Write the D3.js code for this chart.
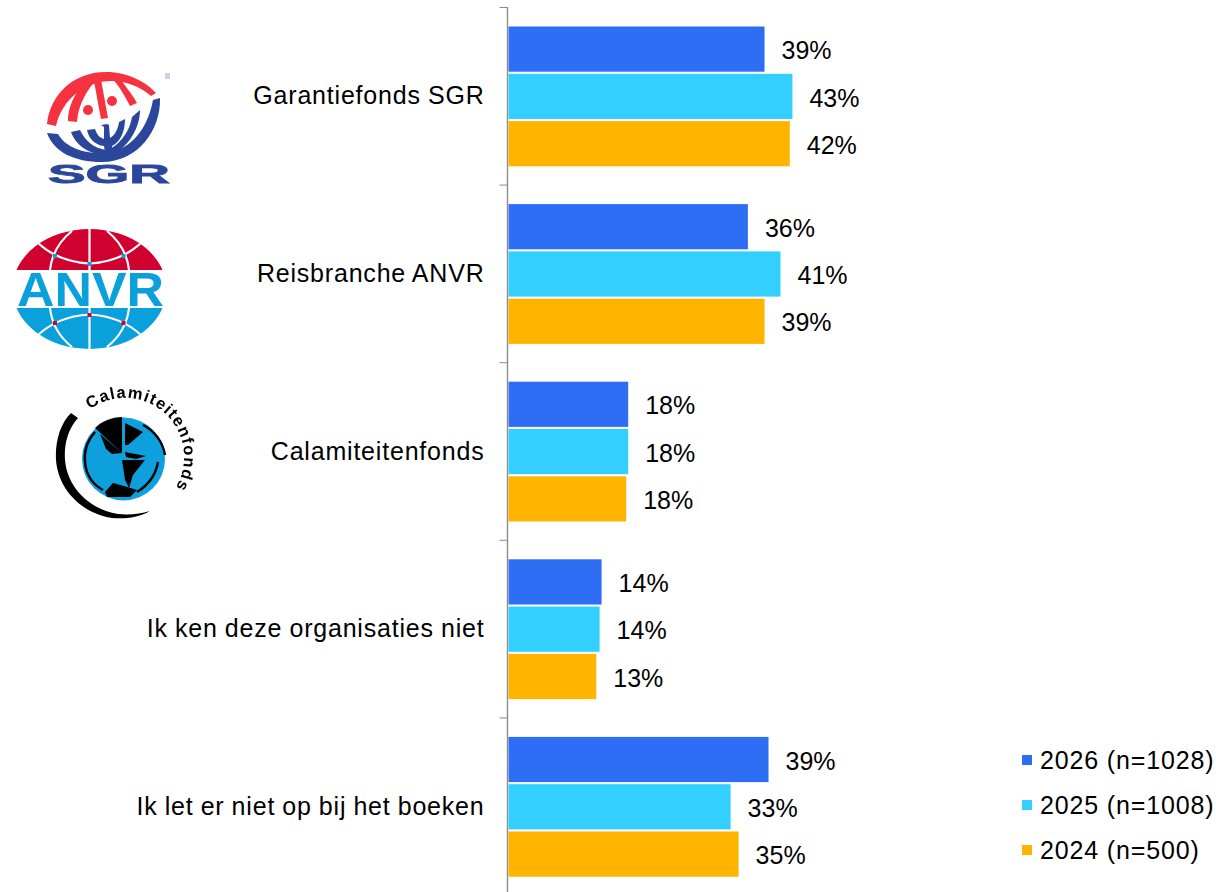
<!DOCTYPE html>
<html><head><meta charset="utf-8">
<script src="https://cdn.jsdelivr.net/npm/d3@7"></script>
<style>html,body{margin:0;padding:0;background:#fff;overflow:hidden}svg{display:block}text{font-family:"Liberation Sans",Arial,sans-serif}</style>
</head><body><svg id="c" width="1216" height="892"></svg>
<script>
const categories = ["Garantiefonds SGR","Reisbranche ANVR","Calamiteitenfonds","Ik ken deze organisaties niet","Ik let er niet op bij het boeken"];
const years = ["2026 (n=1028)","2025 (n=1008)","2024 (n=500)"];
const colors = ["#2e6ef5","#33cfff","#ffb400"];
const values2026 = [38.5,36.0,18.0,14.0,39.1];
const values2025 = [42.7,40.9,18.0,13.7,33.4];
const values2024 = [42.3,38.5,17.7,13.2,34.6];
const labels2026 = ["39%","36%","18%","14%","39%"];
const labels2025 = ["43%","41%","18%","14%","33%"];
const labels2024 = ["42%","39%","18%","13%","35%"];
const seriesValues = [values2026,values2025,values2024];
const seriesLabels = [labels2026,labels2025,labels2024];

const svg = d3.select("#c");
const x = d3.scaleLinear().domain([0,100]).range([508.5,1173.5]);
const y = d3.scaleBand().domain(categories).range([7,895]);
const inner = d3.scaleBand().domain(d3.range(3)).range([18.6,160.5]);
const FS = 25;

// axis
svg.append("line").attr("x1",507.5).attr("x2",507.5).attr("y1",7).attr("y2",892).attr("stroke","#8c8c8c").attr("stroke-width",1.4);
const ticks = categories.map(c=>y(c));
svg.selectAll(".tk").data(ticks).join("line").attr("class","tk")
  .attr("x1",499.5).attr("x2",507.5).attr("y1",d=>d+.5).attr("y2",d=>d+.5).attr("stroke","#8c8c8c").attr("stroke-width",1);

// bars
seriesValues.forEach((vals,s)=>{
  svg.append("g").selectAll("rect").data(vals).join("rect")
    .attr("x",x(0)).attr("y",(d,i)=>y(categories[i])+inner(s)+.9)
    .attr("width",d=>x(d)-x(0)).attr("height",inner.bandwidth()-2.1)
    .attr("fill",colors[s]);
  svg.append("g").selectAll("text").data(vals).join("text")
    .attr("x",d=>x(d)+17).attr("y",(d,i)=>y(categories[i])+inner(s)+inner.bandwidth()/2+1)
    .attr("dominant-baseline","central").attr("font-size",FS).attr("fill","#000")
    .text((d,i)=>seriesLabels[s][i]);
});

// category labels
svg.append("g").selectAll("text").data(categories).join("text")
  .attr("x",484.5).attr("y",d=>y(d)+y.bandwidth()/2-.5).attr("text-anchor","end")
  .attr("dominant-baseline","central").attr("font-size",FS).attr("fill","#000")
  .attr("letter-spacing",.8).attr("word-spacing",-.6).text(d=>d);

// legend
const legY = d3.scalePoint().domain(years).range([760,850]);
const leg = svg.append("g").selectAll("g").data(years).join("g");
leg.append("rect").attr("x",1022).attr("y",d=>legY(d)-5).attr("width",10).attr("height",10).attr("fill",(d,i)=>colors[i]);
leg.append("text").attr("x",1040).attr("y",d=>legY(d)).attr("dominant-baseline","central").attr("font-size",FS).attr("letter-spacing",.85).text(d=>d);

// ---- logos ----
const defs = svg.append("defs");
defs.append("filter").attr("id","soft").append("feGaussianBlur").attr("stdDeviation",.5);

// SGR
const sgr = svg.append("g").attr("filter","url(#soft)");
const red="#f5333f", navy="#2b479b";
sgr.append("path").attr("fill",red).attr("d","M47,124 C50,96 72,72 106,72 C128,72 146,82 156,93 L151,96 C140,86 124,81 112,81 C84,81 62,100 56,126 Z");
sgr.append("path").attr("fill",red).attr("d","M68,121 C68,104 78,86 94,74 L99,77 C86,90 78,106 77,122 Z");
sgr.append("path").attr("fill",red).attr("d","M93,76 L100,74 L108,118 L101,119 Z");
sgr.append("path").attr("fill",red).attr("d","M110,76 L116,74 C124,84 132,94 137,103 L130,106 C125,96 118,84 110,76 Z");
sgr.append("circle").attr("cx",88).attr("cy",110).attr("r",5).attr("fill",red);
sgr.append("circle").attr("cx",112).attr("cy",101).attr("r",5).attr("fill",red);
// outer blue crescent
sgr.append("path").attr("fill",navy).attr("d","M47,133 L58,134 C66,148 84,153 100,153 C128,153 147,132 153,100 L160,98 C161,130 138,162 102,162 C74,162 54,152 47,133 Z");
// blue meridians
sgr.append("path").attr("fill",navy).attr("d","M71,132 L80,130 C86,142 94,148 106,150 L108,155 C90,155 76,146 71,132 Z");
sgr.append("path").attr("fill",navy).attr("d","M132,117 L140,110 C140,128 128,148 112,154 L110,149 C122,142 130,130 132,117 Z");
// menorah
sgr.append("path").attr("fill",navy).attr("d","M87,130 L95,129 C97,135 100,138 104,139 L104,127 L101,125 L107,124 L109,125 L110,138 C114,136 118,130 119,122 L125,119 C125,132 120,142 112,146 L113,153 L105,153 L104,146 C95,145 89,139 87,130 Z");
sgr.append("text").attr("x",48).attr("y",183).attr("textLength",122).attr("lengthAdjust","spacingAndGlyphs")
  .attr("font-size",25).attr("font-weight",700).attr("fill",navy).attr("stroke",navy).attr("stroke-width",.8).text("SGR");
sgr.append("rect").attr("x",165).attr("y",73).attr("width",5).attr("height",6).attr("fill","#c9d3e6");

// ANVR
const a = svg.append("g");
const cpa = defs.append("clipPath").attr("id","anvrClip");
cpa.append("ellipse").attr("cx",89.5).attr("cy",289).attr("rx",77).attr("ry",60);
const ag = a.append("g").attr("clip-path","url(#anvrClip)");
const crimson="#d0002f", sky="#0aa0dc";
ag.append("rect").attr("x",0).attr("y",228).attr("width",180).attr("height",42).attr("fill",crimson);
ag.append("rect").attr("x",0).attr("y",308).attr("width",180).attr("height",42).attr("fill",sky);
const wl = ["M89.5,228 V270","M89.5,308 V350",
 "M36,241 C45,250 60,262 89.5,263.5 C119,262 134,250 143,241",
 "M36,337 C45,328 60,316 89.5,314.5 C119,316 134,328 143,337",
 "M72,231 C62,239 52,252 50,270","M107,231 C117,239 127,252 129,270",
 "M50,308 C52,326 62,339 72,347","M129,308 C127,326 117,339 107,347"];
ag.selectAll("path").data(wl).join("path").attr("d",d=>d).attr("fill","none").attr("stroke","#fff").attr("stroke-width",2.2);
[[55,256],[89.5,264],[123.5,256]].forEach(p=>a.append("rect").attr("x",p[0]-2).attr("y",p[1]-2).attr("width",4).attr("height",4).attr("fill",sky));
[[55,323],[89.5,315],[123.5,323]].forEach(p=>a.append("rect").attr("x",p[0]-2).attr("y",p[1]-2).attr("width",4).attr("height",4).attr("fill",crimson));
a.append("text").attr("x",17).attr("y",305.5).attr("textLength",147).attr("lengthAdjust","spacingAndGlyphs")
  .attr("font-size",48).attr("font-weight",700).attr("fill",sky).text("ANVR");

// Calamiteitenfonds
const k = svg.append("g").attr("filter","url(#soft)");
k.append("path").attr("fill","#000").attr("d","M71,413 L78,418 C67,430 64,446 65,460 C67,486 88,509 118,514 C130,515 140,514 150,511 C138,518 124,519 112,518 C80,513 58,488 56,460 C55,442 60,424 71,413 Z");
k.append("circle").attr("cx",123.5).attr("cy",459).attr("r",41.5).attr("fill","#0aa0dc");
k.append("path").attr("fill","#000").attr("d","M122,417 L122,453 L95,428 C102,421 112,417 122,417 Z");
k.append("path").attr("fill","#000").attr("d","M125,423 L143,432 L128,445 L125,445 Z");
k.append("path").attr("fill","none").attr("stroke","#000").attr("stroke-width",2.4).attr("d","M143,425 A41,41 0 0 1 165,455");
k.append("path").attr("fill","none").attr("stroke","#000").attr("stroke-width",2.4).attr("d","M95,432 C86,442 84,452 85,462 C86,474 92,484 103,490");
k.append("path").attr("fill","none").attr("stroke","#000").attr("stroke-width",2.4).attr("d","M158,462 C156,474 150,484 137,492");
k.append("path").attr("fill","#000").attr("d","M125,452 L146,456 L136,459 L126,457 Z");
k.append("path").attr("fill","#000").attr("d","M122,460 L145,460 L133,475 L129,488 L125,480 Z");
k.append("path").attr("fill","#000").attr("d","M105,492 L113,483 L124,486 L137,490 L130,497 L107,497 Z");
k.append("path").attr("fill","#000").attr("d","M100,434 L122,453 L112,454 L106,449 Z");
k.append("path").attr("id","calArc").attr("fill","none").attr("d","M90,409.5 A59,59 0 0 1 171,494");
k.append("text").attr("font-size",16.5).attr("font-weight",700).attr("fill","#000")
  .append("textPath").attr("href","#calArc").attr("textLength",162).attr("lengthAdjust","spacing").text("Calamiteitenfonds");
</script></body></html>
